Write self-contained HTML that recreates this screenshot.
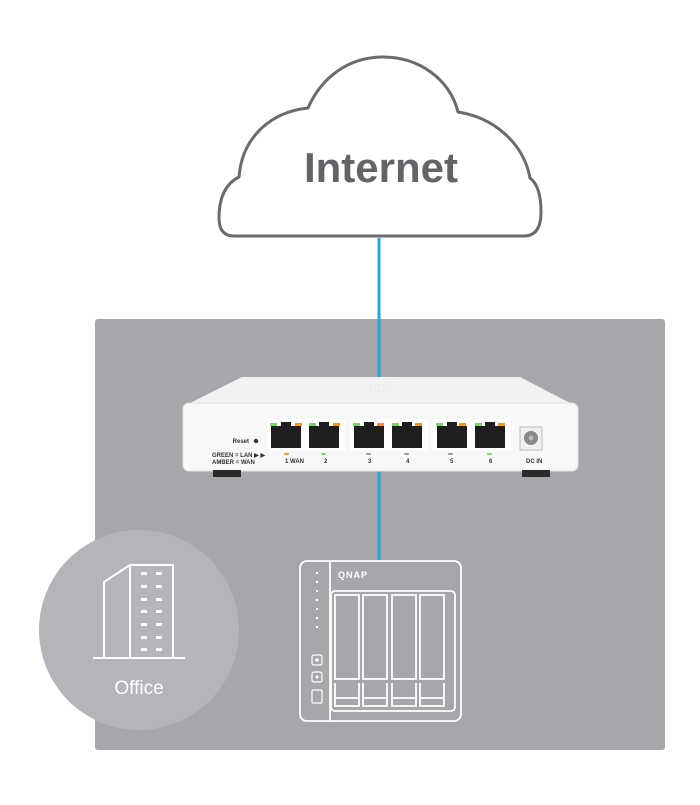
<!DOCTYPE html>
<html><head><style>
body{margin:0;width:700px;height:800px;background:#fff;overflow:hidden;font-family:"Liberation Sans",sans-serif}
</style></head><body>
<svg width="700" height="800" viewBox="0 0 700 800" xmlns="http://www.w3.org/2000/svg">
<rect x="95" y="319" width="570" height="431" rx="3" fill="#a6a7ab"/>
<!-- cloud -->
<path d="M234 236 Q219 236 219 218 Q219 187 239 177 C242 138 270 112 308 108 C322 76 350 57 383 57 C420 57 450 80 458 112 C496 118 524 145 530 178 C538 184 541 196 541 212 Q541 236 524 236 Z" fill="#fff" stroke="#6b6b6f" stroke-width="3" stroke-linejoin="round"/>
<text x="381" y="182" font-size="42" font-weight="bold" fill="#646468" text-anchor="middle" font-family="Liberation Sans, sans-serif">Internet</text>
<line x1="379" y1="238" x2="379" y2="380" stroke="#2aa3dd" stroke-width="3"/>
<line x1="379" y1="470" x2="379" y2="561" stroke="#2aa3dd" stroke-width="3"/>
<!-- router -->
<path d="M242 377 L520 377 L572 404 L188 404 Z" fill="#f2f2f3"/>
<text x="380" y="393" font-size="13" font-weight="bold" fill="#fff" stroke="#e4e4e6" stroke-width="0.6" text-anchor="middle" transform="rotate(180 380 389)">QNAP</text>
<rect x="183" y="403" width="395" height="68" rx="6" fill="#f8f8f8" stroke="#e2e2e4"/>
<rect x="213" y="470" width="28" height="7" fill="#2a2a2a"/>
<rect x="522" y="470" width="28" height="7" fill="#2a2a2a"/>
<g font-size="6" font-weight="bold" fill="#333">
<text x="249" y="443" text-anchor="end">Reset</text>
<circle cx="256" cy="441" r="2.2" fill="#333"/>
<text x="212" y="457">GREEN = LAN ▶ ▶</text>
<text x="212" y="464">AMBER = WAN</text>
<text x="285" y="463">1 WAN</text>
<text x="324" y="463">2</text><text x="368" y="463">3</text><text x="406" y="463">4</text><text x="450" y="463">5</text><text x="489" y="463">6</text>
<text x="526" y="463">DC IN</text>
</g>
<g>
<rect x="267" y="419" width="78" height="32" fill="#fff"/>
<rect x="350" y="419" width="78" height="32" fill="#fff"/>
<rect x="433" y="419" width="78" height="32" fill="#fff"/>
</g>
<g fill="#1e1e1e">
<path d="M271 426h30v22h-30z M281 422h10v4h-10z"/>
<path d="M309 426h30v22h-30z M319 422h10v4h-10z"/>
<path d="M354 426h30v22h-30z M364 422h10v4h-10z"/>
<path d="M392 426h30v22h-30z M402 422h10v4h-10z"/>
<path d="M437 426h30v22h-30z M447 422h10v4h-10z"/>
<path d="M475 426h30v22h-30z M485 422h10v4h-10z"/>
</g>
<g fill="#7ed36a"><rect x="270" y="423" width="7" height="3"/><rect x="309" y="423" width="7" height="3"/><rect x="353" y="423" width="7" height="3"/><rect x="392" y="423" width="7" height="3"/><rect x="436" y="423" width="7" height="3"/><rect x="475" y="423" width="7" height="3"/>
<rect x="321" y="453" width="5" height="2" rx="1"/><rect x="487" y="453" width="5" height="2" rx="1"/></g>
<g fill="#f39a1e"><rect x="295" y="423" width="7" height="3"/><rect x="333" y="423" width="7" height="3"/><rect x="377" y="423" width="7" height="3"/><rect x="415" y="423" width="7" height="3"/><rect x="459" y="423" width="7" height="3"/><rect x="498" y="423" width="7" height="3"/>
<rect x="284" y="453" width="5" height="2" rx="1"/></g>
<g fill="#999"><rect x="366" y="453" width="5" height="2" rx="1"/><rect x="404" y="453" width="5" height="2" rx="1"/><rect x="448" y="453" width="5" height="2" rx="1"/></g>
<rect x="520" y="427" width="22" height="23" fill="#f0f0f0" stroke="#bbb"/>
<circle cx="531" cy="438" r="7" fill="#888"/><circle cx="531" cy="438" r="2.5" fill="#bbb"/>
<!-- office -->
<circle cx="139" cy="630" r="100" fill="#b4b5bb"/>
<g stroke="#fff" stroke-width="2" fill="none">
<path d="M93 658 L185 658"/>
<path d="M104 658 V582 L130 565 H173 V658 M130 565 V658"/>
</g>
<g fill="#fff">
<rect x="141" y="572" width="6" height="3"/><rect x="156" y="572" width="6" height="3"/>
<rect x="141" y="585" width="6" height="3"/><rect x="156" y="585" width="6" height="3"/>
<rect x="141" y="598" width="6" height="3"/><rect x="156" y="598" width="6" height="3"/>
<rect x="141" y="610" width="6" height="3"/><rect x="156" y="610" width="6" height="3"/>
<rect x="141" y="623" width="6" height="3"/><rect x="156" y="623" width="6" height="3"/>
<rect x="141" y="636" width="6" height="3"/><rect x="156" y="636" width="6" height="3"/>
<rect x="141" y="648" width="6" height="3"/><rect x="156" y="648" width="6" height="3"/>
</g>
<text x="139" y="694" font-size="19" fill="#fff" text-anchor="middle">Office</text>
<!-- NAS -->
<g stroke="#fff" stroke-width="1.8" fill="none">
<rect x="300" y="561" width="161" height="160" rx="7"/>
<path d="M330 561 V721"/>
<rect x="331" y="591" width="124" height="120" rx="4"/>
<rect x="335" y="595" width="24" height="84"/><rect x="363" y="595" width="24" height="84"/><rect x="392" y="595" width="24" height="84"/><rect x="420" y="595" width="24" height="84"/>
<path d="M335 683 V706 H359 V683 M335 698 H359 M363 683 V706 H387 V683 M363 698 H387 M392 683 V706 H416 V683 M392 698 H416 M420 683 V706 H444 V683 M420 698 H444"/>
<rect x="312" y="655" width="10" height="10" rx="2" stroke-width="1.2"/>
<rect x="312" y="672" width="10" height="10" rx="2" stroke-width="1.2"/>
<rect x="312" y="690" width="10" height="13" rx="1" stroke-width="1.2"/>
</g>
<g fill="#fff"><rect x="316" y="572" width="2" height="2"/><rect x="316" y="581" width="2" height="2"/><rect x="316" y="590" width="2" height="2"/><rect x="316" y="599" width="2" height="2"/><rect x="316" y="608" width="2" height="2"/><rect x="316" y="617" width="2" height="2"/><rect x="316" y="626" width="2" height="2"/>
<circle cx="317" cy="660" r="1.8"/><circle cx="317" cy="677" r="1.5"/></g>
<text x="338" y="578" font-size="9" font-weight="bold" fill="#fff" letter-spacing="1">QNAP</text>
</svg>
</body></html>
